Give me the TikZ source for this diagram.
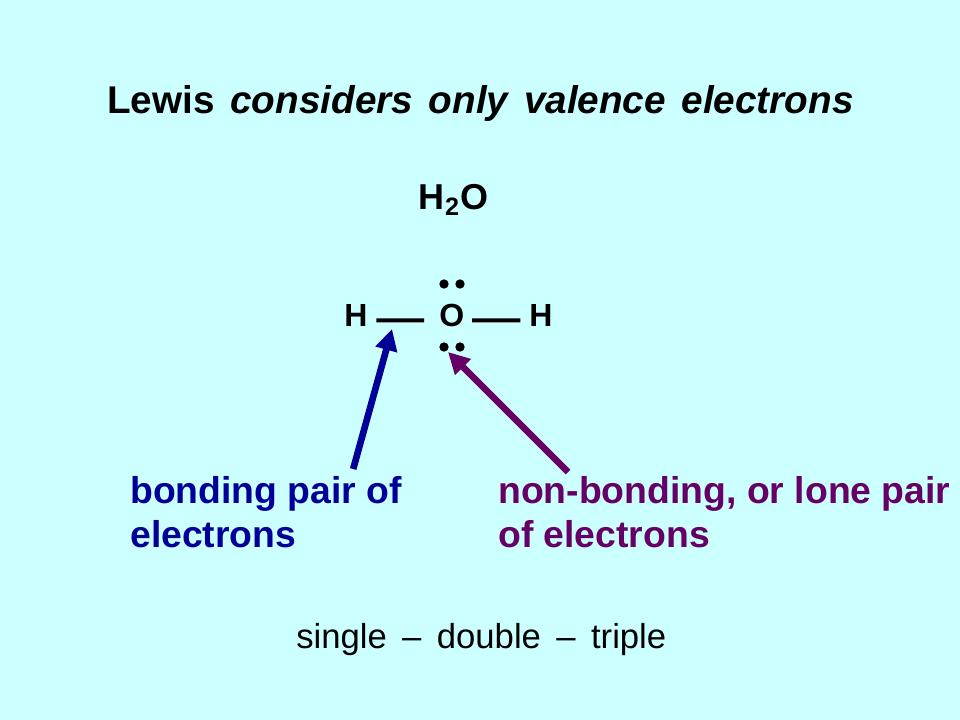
\documentclass[tikz,border=0pt]{standalone}
\usepackage{fontspec}
\setmainfont{Liberation Sans}
\usetikzlibrary{arrows.meta,positioning}
\definecolor{slide}{RGB}{204,255,255}
\definecolor{bondblue}{RGB}{0,0,153}
\definecolor{lonepurple}{RGB}{102,0,102}
\begin{document}
\begin{tikzpicture}[
		x=0.75pt, y=-0.75pt,
		txt/.style={inner sep=0pt, anchor=base west, font=\fontsize{26}{26}\selectfont},
		atom/.style={txt, font=\fontsize{24}{24}\selectfont\bfseries},
		label/.style={inner sep=0pt, anchor=north west, align=left, font=\fontsize{28}{33.5}\selectfont\bfseries},
		dot/.style={circle, fill=black, inner sep=0pt, minimum size=7pt},
		bond/.style={line width=3pt},
		arrow/.style={-{Triangle[length=16pt,width=16pt]}, line width=5pt}
	]
	\useasboundingbox[fill=slide] (0,0) rectangle (960,720);

	\node[txt, font=\fontsize{29}{29}\selectfont\bfseries] (title) at (107,113.5) {\spaceskip 11.8pt Lewis \textit{considers only valence electrons}};
	\node[atom, font=\fontsize{27}{27}\selectfont\bfseries] (formula) at (418,209.5) {H\kern0.7pt\textsubscript{2}\kern0.7pt O};

	\node[atom] (hleft) at (344,326) {H};
	\node[atom] (oxy) at (439,326) {O};
	\node[atom] (hright) at (529,326) {H};
	\node[dot] (dotA) at (444,284) {};
	\node[dot] (dotB) at (460,284) {};
	\node[dot] (dotC) at (444,347) {};
	\node[dot] (dotD) at (460,347) {};

	\draw[bond, shorten <=6.5pt, shorten >=11.25pt] ([yshift=-4pt]hleft.east) -- ([yshift=-4pt]oxy.west);
	\draw[bond, shorten <=5.75pt, shorten >=6.5pt] ([yshift=-4pt]oxy.east) -- ([yshift=-4pt]hright.west);

	\node[label, text=bondblue] (bonding) at (130,476) {bonding pair of\\electrons};
	\node[label, text=lonepurple] (lone) at (498,476) {non-bonding, or lone pair\\of electrons};
	\node[txt] (orders) at (296,648) {single \,–\, double \,–\, triple};

	\coordinate (bondtip) at (392,329);
	\coordinate (lonetip) at (448,352);
	\draw[arrow, bondblue] ([xshift=-36.75pt,yshift=5.25pt]bonding.north east) -- (bondtip);
	\draw[arrow, lonepurple] ([xshift=52.5pt,yshift=3pt]lone.north west) -- (lonetip);

\end{tikzpicture}
\end{document}
